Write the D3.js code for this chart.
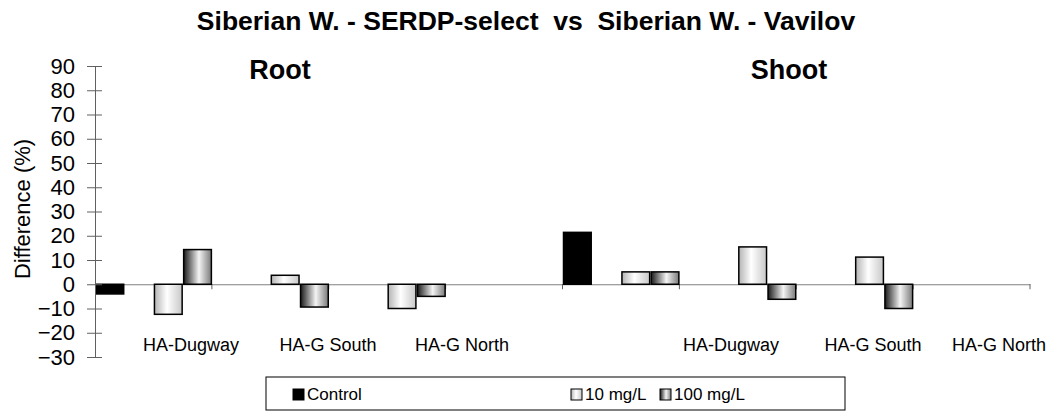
<!DOCTYPE html>
<html>
<head>
<meta charset="utf-8">
<script src="https://cdn.jsdelivr.net/npm/d3@7"></script>
<style>
  body { margin: 0; background: #fff; }
  svg { display: block; font-family: Arial, "Liberation Sans", sans-serif; }
</style>
</head>
<body>
<script>
// data (8 slots: 4 root, 4 shoot)
var slots = ["R1", "R2", "R3", "R4", "S1", "S2", "S3", "S4"];
var seriesNames = ["Control", "", "10 mg/L", "100 mg/L"];
var controlVals = [-4, null, null, null, 21.4, null, null, null];
var blankVals   = [null, null, null, null, null, null, null, null];
var mg10Vals    = [-12.4, 3.7, -10, null, 5.1, 15.4, 11.2, null];
var mg100Vals   = [14.3, -9.4, -5, null, 5.1, -6.2, -10, null];
var siteLabels  = ["HA-Dugway", "HA-G South", "HA-G North", "HA-Dugway", "HA-G South", "HA-G North"];
var yTicks = [-30, -20, -10, 0, 10, 20, 30, 40, 50, 60, 70, 80, 90];

// layout
var width = 1052, height = 412;
var plot = {left: 95, right: 1030, top: 66, bottom: 357};
var siteLabelX = [191, 328, 462, 731, 873, 999];

var svg = d3.select("body").append("svg")
	.attr("width", width)
	.attr("height", height);

var defs = svg.append("defs");
function grad(id, stops) {
	var g = defs.append("linearGradient").attr("id", id)
		.attr("x1", "0%").attr("x2", "100%").attr("y1", "0%").attr("y2", "0%");
	stops.forEach(function(s){
		g.append("stop").attr("offset", s[0]).attr("stop-color", s[1]);
	});
}
grad("g10", [["0%", "#b4b4b4"], ["45%", "#ffffff"], ["100%", "#c8c8c8"]]);
grad("g100", [["0%", "#1a1a1a"], ["55%", "#f4f4f4"], ["100%", "#7a7a7a"]]);
var fills = ["#000", "none", "url(#g10)", "url(#g100)"];

var y = d3.scaleLinear().domain([-30, 90]).range([plot.bottom, plot.top]);
var x = d3.scaleBand().domain(slots).range([plot.left, plot.right]).padding(0);
var xs = d3.scaleBand().domain(d3.range(seriesNames.length)).range([0, x.bandwidth()]).padding(0);

// title and panel headings
svg.append("text").attr("x", 526).attr("y", 30)
	.attr("text-anchor", "middle").style("font-size", "26.5px").style("font-weight", "bold")
	.style("white-space", "pre")
	.text("Siberian W. - SERDP-select  vs  Siberian W. - Vavilov");
svg.append("text").attr("x", 280).attr("y", 79)
	.attr("text-anchor", "middle").style("font-size", "27px").style("font-weight", "bold")
	.text("Root");
svg.append("text").attr("x", 789).attr("y", 79)
	.attr("text-anchor", "middle").style("font-size", "27px").style("font-weight", "bold")
	.text("Shoot");

// bars
var allVals = [controlVals, blankVals, mg10Vals, mg100Vals];
var barData = [];
allVals.forEach(function(vals, si){
	vals.forEach(function(v, i){
		if (v !== null) barData.push({slot: slots[i], s: si, v: v});
	});
});

// zero line + category ticks
var xAxis = d3.axisBottom(x).tickSize(0).tickFormat("");
svg.append("g")
	.attr("transform", "translate(0," + y(0) + ")")
	.call(xAxis)
	.call(function(g){ g.select(".domain").attr("stroke", "#808080"); });
svg.append("g").selectAll("line")
	.data(slots.slice(1).concat(["end"]))
	.enter().append("line")
	.attr("x1", function(d){ return d === "end" ? plot.right : x(d); })
	.attr("x2", function(d){ return d === "end" ? plot.right : x(d); })
	.attr("y1", y(0)).attr("y2", y(0) + 5)
	.attr("stroke", "#606060");

svg.append("g").selectAll("rect")
	.data(barData)
	.enter().append("rect")
	.attr("x", function(d){ return x(d.slot) + xs(d.s) + 1; })
	.attr("width", xs.bandwidth() - 1.5)
	.attr("y", function(d){ return y(Math.max(0, d.v)); })
	.attr("height", function(d){ return Math.abs(y(d.v) - y(0)); })
	.attr("fill", function(d){ return fills[d.s]; })
	.attr("stroke", "#000")
	.attr("stroke-width", 1.5);

// y axis
var yAxis = d3.axisLeft(y).tickValues(yTicks).tickSizeInner(8).tickSizeOuter(0).tickPadding(12);
var ya = svg.append("g")
	.attr("transform", "translate(" + plot.left + ",0)")
	.call(yAxis);
ya.select(".domain").attr("stroke", "#606060");
ya.selectAll(".tick line").attr("stroke", "#606060").attr("x2", 7).attr("x1", -8);
ya.selectAll(".tick text")
	.attr("x", -20)
	.style("font-size", "22px").style("font-family", "Arial, 'Liberation Sans', sans-serif")
	.attr("fill", "#000");

svg.append("text")
	.attr("transform", "translate(30," + 209 + ") rotate(-90)")
	.attr("text-anchor", "middle")
	.style("font-size", "22px")
	.text("Difference (%)");

// site labels
svg.append("g").selectAll("text")
	.data(siteLabels)
	.enter().append("text")
	.attr("x", function(d, i){ return siteLabelX[i]; })
	.attr("y", 351)
	.attr("text-anchor", "middle")
	.style("font-size", "18px")
	.text(function(d){ return d; });

// legend
var legend = svg.append("g");
legend.append("rect")
	.attr("x", 266).attr("y", 377).attr("width", 579).attr("height", 33)
	.attr("fill", "#fff").attr("stroke", "#000");
var legendX = [293, null, 571, 660];
seriesNames.forEach(function(name, i){
	if (legendX[i] === null) return;
	legend.append("rect")
		.attr("x", legendX[i]).attr("y", 389).attr("width", 11).attr("height", 11)
		.attr("fill", fills[i]).attr("stroke", "#000").attr("stroke-width", 1);
	legend.append("text")
		.attr("x", legendX[i] + 14).attr("y", 400)
		.style("font-size", "17px")
		.text(name);
});
</script>
</body>
</html>
